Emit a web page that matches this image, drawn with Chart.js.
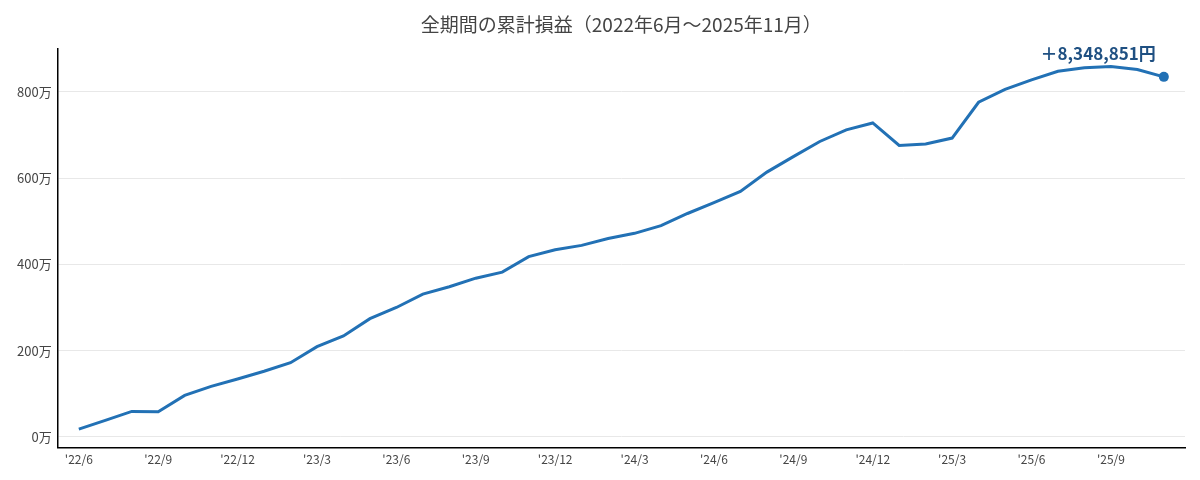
<!DOCTYPE html>
<html>
<head>
<meta charset="utf-8">
<script src="https://cdn.jsdelivr.net/npm/chart.js@4"></script>
<style>
  html, body { margin: 0; padding: 0; background: #fff; }
  #wrap { width: 1200px; height: 480px; }
</style>
</head>
<body>
<div id="wrap"><canvas id="chart"></canvas></div>
<script>
// months from 2022/6 to 2025/11
const months = [
  '2022/6', '2022/7', '2022/8', '2022/9', '2022/10', '2022/11', '2022/12',
  '2023/1', '2023/2', '2023/3', '2023/4', '2023/5', '2023/6', '2023/7',
  '2023/8', '2023/9', '2023/10', '2023/11', '2023/12', '2024/1', '2024/2',
  '2024/3', '2024/4', '2024/5', '2024/6', '2024/7', '2024/8', '2024/9',
  '2024/10', '2024/11', '2024/12', '2025/1', '2025/2', '2025/3', '2025/4',
  '2025/5', '2025/6', '2025/7', '2025/8', '2025/9', '2025/10', '2025/11'
];

// cumulative P&L, in 万円
const cumPnl = [
  18, 38, 59, 58, 96, 117, 134, 152, 172, 209, 234, 274, 300, 331,
  348, 368, 382, 418, 434, 444, 460, 472, 490, 518, 543, 569, 614, 650,
  685, 712, 728, 676, 679, 693, 776, 806, 828, 848, 856, 859, 852, 834.8851
];

const xTickLabels = [
  "'22/6", "'22/9", "'22/12", "'23/3", "'23/6", "'23/9", "'23/12",
  "'24/3", "'24/6", "'24/9", "'24/12", "'25/3", "'25/6", "'25/9"
];
const yTicks = [0, 200, 400, 600, 800];

const finalLabel = '＋8,348,851円';

const FONT = "'Noto Sans CJK JP', 'Noto Sans', sans-serif";
const LINE_COLOR = '#2271b5';

// draws the total label next to the last point
const lastLabel = {
  id: 'lastLabel',
  afterDatasetsDraw(chart) {
    const meta = chart.getDatasetMeta(0);
    const pt = meta.data[meta.data.length - 1];
    const ctx = chart.ctx;
    ctx.save();
    ctx.font = 'bold 17px ' + FONT;
    ctx.fillStyle = '#1f5082';
    ctx.textAlign = 'right';
    ctx.textBaseline = 'bottom';
    ctx.fillText(finalLabel, pt.x - 8, pt.y - 15);
    ctx.restore();
  }
};

const points = cumPnl.map((v, i) => ({x: i, y: v}));

new Chart(document.getElementById('chart'), {
  type: 'line',
  data: {
    datasets: [{
      data: points,
      borderColor: LINE_COLOR,
      backgroundColor: LINE_COLOR,
      borderWidth: 3,
      tension: 0,
      pointRadius: points.map((p, i) => i === points.length - 1 ? 5 : 0),
      pointBorderWidth: 0,
      pointHoverRadius: 0,
      fill: false
    }]
  },
  options: {
    responsive: true,
    maintainAspectRatio: false,
    animation: false,
    layout: {padding: {left: 11, right: 15, top: 0, bottom: 8}},
    plugins: {
      legend: {display: false},
      tooltip: {enabled: false},
      title: {
        display: true,
        fullSize: false,
        text: '全期間の累計損益（2022年6月～2025年11月）',
        color: '#444',
        font: {family: FONT, size: 19, weight: 'normal'},
        padding: {top: 13, bottom: 13}
      }
    },
    scales: {
      x: {
        type: 'linear',
        min: -0.8,
        max: 41.8,
        afterBuildTicks: (scale) => {
          scale.ticks = xTickLabels.map((_, i) => ({value: i * 3}));
        },
        ticks: {
          autoSkip: false,
          maxRotation: 0,
          color: '#444',
          font: {family: FONT, size: 12},
          padding: 5,
          callback: (v) => xTickLabels[Math.round(v / 3)]
        },
        grid: {display: false, drawTicks: false},
        border: {display: true, color: '#000', width: 1.5}
      },
      y: {
        min: -25,
        max: 900,
        afterBuildTicks: (scale) => {
          scale.ticks = yTicks.map(v => ({value: v}));
        },
        ticks: {
          color: '#444',
          font: {family: FONT, size: 13},
          padding: 6,
          callback: (v) => v + '万'
        },
        grid: {color: '#e8e8e8', drawTicks: false},
        border: {display: true, color: '#000', width: 1.5}
      }
    }
  },
  plugins: [lastLabel]
});
</script>
</body>
</html>
